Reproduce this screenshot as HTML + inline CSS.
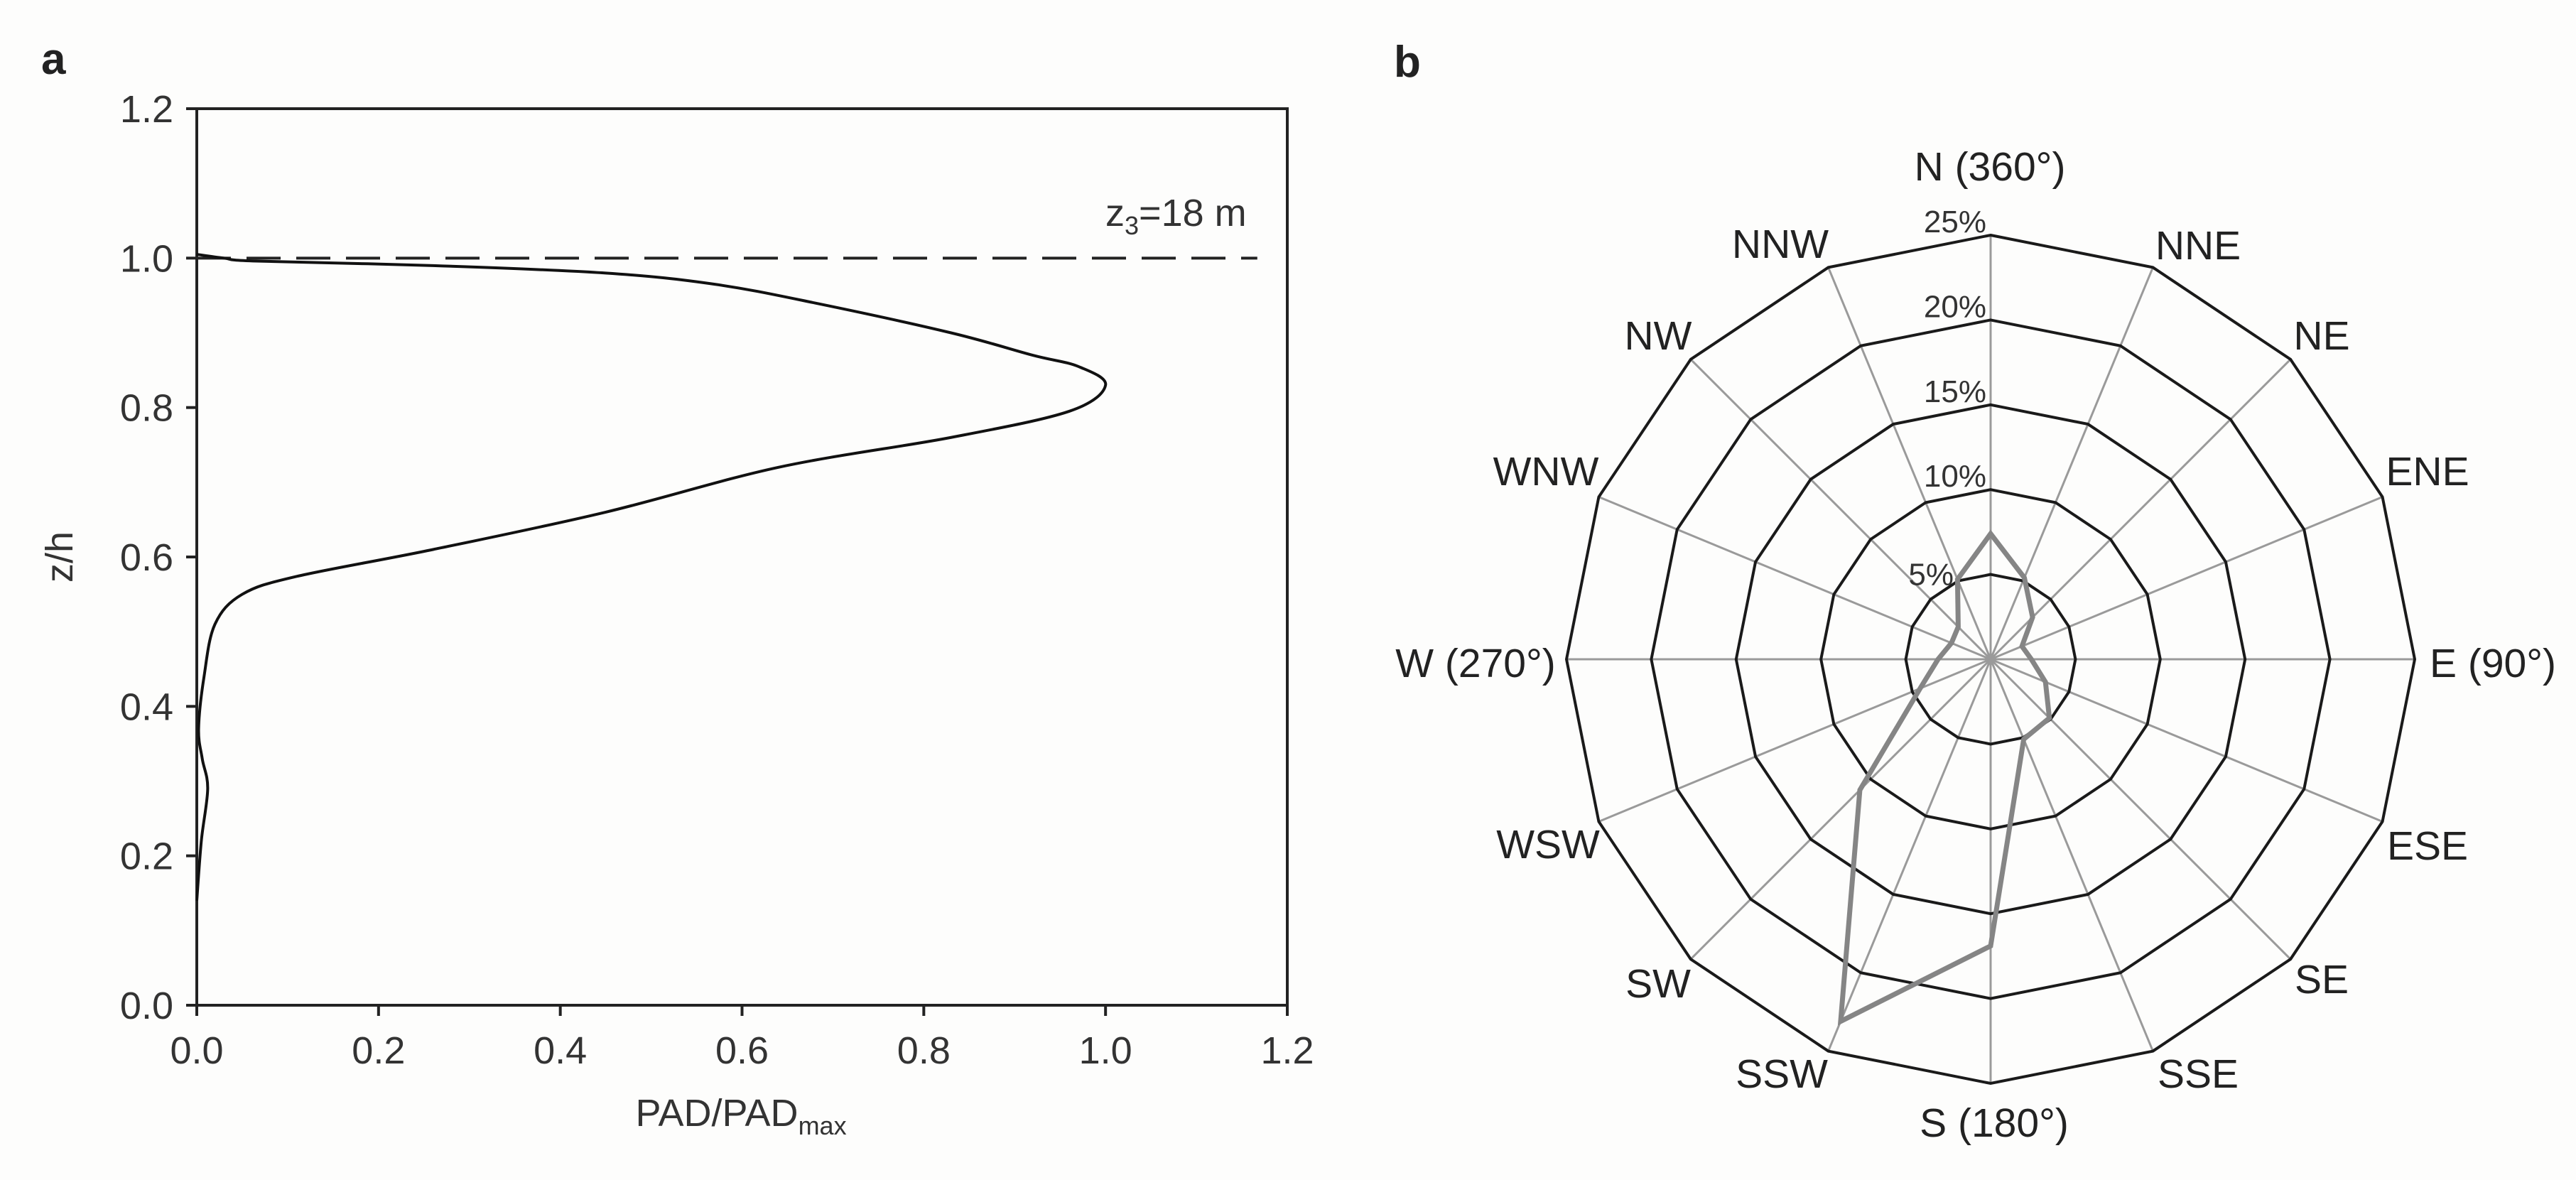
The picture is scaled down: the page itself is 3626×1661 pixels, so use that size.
<!DOCTYPE html>
<html><head><meta charset="utf-8"><style>
html,body{margin:0;padding:0;background:#fdfdfc;}
svg{display:block;font-family:"Liberation Sans",Arial,sans-serif;}
</style></head><body>
<svg id="fig" width="3626" height="1661" viewBox="0 0 3626 1661" xmlns="http://www.w3.org/2000/svg">
<rect width="3626" height="1661" fill="#fdfdfc"/>
<text x="58" y="104" font-size="62" font-weight="bold" fill="#222">a</text>
<text x="1962" y="108" font-size="62" font-weight="bold" fill="#222">b</text>
<g id="pa"></g>
<g id="pb"></g>
</svg>
<script>
const xTicks=[0,0.2,0.4,0.6,0.8,1.0,1.2];
const yTicks=[0,0.2,0.4,0.6,0.8,1.0,1.2];
const padX=[0,0.03,0.066,0.26,0.45,0.57,0.68,0.83,0.92,0.97,1.0,0.96,0.83,0.64,0.45,0.26,0.11,0.05,0.02,0.008,0.002,0.006,0.012,0.005,0.0];
const padZ=[1.005,1.0,0.996,0.99,0.98,0.965,0.94,0.90,0.87,0.855,0.83,0.795,0.76,0.72,0.66,0.61,0.574,0.55,0.51,0.44,0.37,0.33,0.29,0.22,0.14];
const refZ=[1.0];
const dirs=["N (360°)","NNE","NE","ENE","E (90°)","ESE","SE","SSE","S (180°)","SSW","SW","WSW","W (270°)","WNW","NW","NNW"];
const freq=[7.4,5.2,3.5,2.0,2.4,3.5,4.9,5.1,16.9,23.1,10.9,4.5,3.1,2.5,2.7,5.1];
const rings=[5,10,15,20,25];

const NS="http://www.w3.org/2000/svg";
function mk(tag,attrs,parent,txt){const e=document.createElementNS(NS,tag);for(const k in attrs)e.setAttribute(k,attrs[k]);if(txt!==undefined)e.textContent=txt;parent.appendChild(e);return e;}

// Panel a
const pa=document.getElementById('pa');
const X0=277,X1=1812,Y0=1415,Y1=153;
const sx=v=>X0+v/1.2*(X1-X0);
const sy=v=>Y0-v/1.2*(Y0-Y1);
let fr=mk('rect',{x:X0,y:Y1,width:X1-X0,height:Y0-Y1,fill:'none',stroke:'#222','stroke-width':4},pa);


xTicks.forEach(t=>{
  let l=mk('line',{x1:sx(t),x2:sx(t),y1:Y0,y2:Y0+15,stroke:'#222','stroke-width':4},pa);
  
  
  let tx=mk('text',{x:sx(t),y:1497,'font-size':54,'text-anchor':'middle',fill:'#333'},pa,t.toFixed(1));
  
  
});
yTicks.forEach(t=>{
  let l=mk('line',{x1:X0-15,x2:X0,y1:sy(t),y2:sy(t),stroke:'#222','stroke-width':4},pa);
  
  
  let tx=mk('text',{x:244,y:sy(t)+19,'font-size':54,'text-anchor':'end',fill:'#333'},pa,t.toFixed(1));
  
  
});
let yt=mk('text',{x:0,y:0,'font-size':54,'text-anchor':'middle',fill:'#333',transform:`translate(102,${sy(0.6)}) rotate(-90)`},pa,'z/h');


let xt=mk('text',{x:sx(0.6)-150,y:1585,'font-size':54,fill:'#333'},pa);


xt.innerHTML='PAD/PAD<tspan font-size="36" dy="12">max</tspan>';
refZ.forEach(z=>{
  let d=mk('line',{x1:sx(0),x2:sx(1.167),y1:sy(z),y2:sy(z),stroke:'#222','stroke-width':4,'stroke-dasharray':'48 22'},pa);
  
  
});
let zl=mk('text',{x:1556,y:318,'font-size':54,fill:'#333'},pa);


zl.innerHTML='z<tspan font-size="36" dy="12">3</tspan><tspan dy="-12">=18 m</tspan>';
let pts=padX.map((v,i)=>[sx(v),sy(padZ[i])]);
let d='M'+pts[0][0]+','+pts[0][1];
for(let i=0;i<pts.length-1;i++){
  const p0=pts[Math.max(0,i-1)],p1=pts[i],p2=pts[i+1],p3=pts[Math.min(pts.length-1,i+2)];
  const c1=[p1[0]+(p2[0]-p0[0])/6,p1[1]+(p2[1]-p0[1])/6];
  const c2=[p2[0]-(p3[0]-p1[0])/6,p2[1]-(p3[1]-p1[1])/6];
  d+=` C${c1[0]},${c1[1]} ${c2[0]},${c2[1]} ${p2[0]},${p2[1]}`;
}
let cv=mk('path',{d:d,fill:'none',stroke:'#111','stroke-width':4},pa);



// Panel b
const pb=document.getElementById('pb');
const CX=2802,CY=928,RMAX=597,VMAX=25;
const rr=v=>v/VMAX*RMAX;
const ang=i=>i*Math.PI/8;
const px=(i,v)=>CX+rr(v)*Math.sin(ang(i));
const py=(i,v)=>CY-rr(v)*Math.cos(ang(i));
dirs.forEach((n,i)=>{
  let s=mk('line',{x1:CX,y1:CY,x2:px(i,VMAX),y2:py(i,VMAX),stroke:'#9a9a9a','stroke-width':3},pb);
  
  
});
rings.forEach(v=>{
  let p=dirs.map((n,i)=>px(i,v)+','+py(i,v)).join(' ');
  let g=mk('polygon',{points:p,fill:'none',stroke:'#1a1a1a','stroke-width':4},pb);
  
  
  let lx=v===5?2750:2796, ly=v===5?CY-rr(v)+15:CY-rr(v)-4;
  let t=mk('text',{x:lx,y:ly,'font-size':44,'text-anchor':'end',fill:'#333'},pb,v+'%');
  
  
});
const labPos=[[2801,233],[3094,344],[3268,471],[3417,662],[3509,932],[3417,1189],[3268,1377],[3094,1510],[2807,1579],[2508,1510],[2334,1383],[2179,1187],[2077,932],[2176,662],[2334,471],[2506,342]];
dirs.forEach((n,i)=>{
  let t=mk('text',{x:labPos[i][0],y:labPos[i][1]+21,'font-size':57,'text-anchor':'middle',fill:'#222'},pb,n);
  
  
});
let sp=dirs.map((n,i)=>px(i,freq[i])+','+py(i,freq[i])).join(' ');
let ser=mk('polygon',{points:sp,fill:'none',stroke:'#858585','stroke-width':7,'stroke-linejoin':'miter'},pb);


</script>
</body></html>
